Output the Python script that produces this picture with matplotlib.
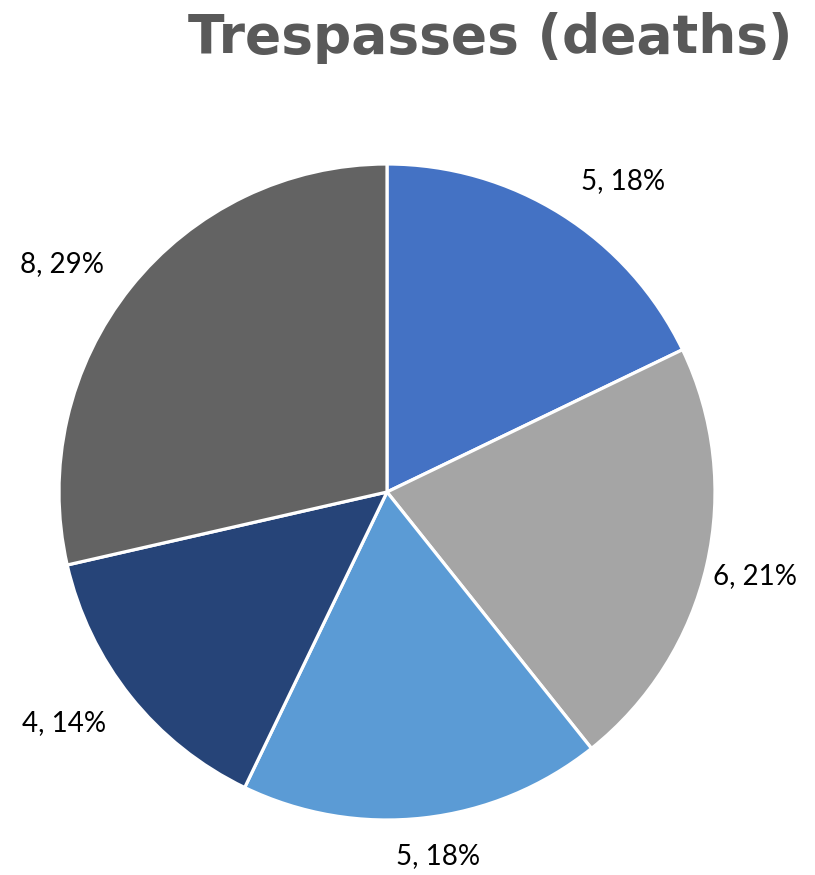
import math
import matplotlib
matplotlib.use("Agg")
import matplotlib.pyplot as plt

title = "Trespasses (deaths)"
values = [5, 6, 5, 4, 8]
colors = ["#4472C4", "#A5A5A5", "#5B9BD5", "#264478", "#636363"]

total = sum(values)
labels = [f"{v}, {round(v / total * 100)}%" for v in values]

# label placement style (distance in radii, angle nudge in degrees)
label_dist = [1.19, 1.15, 1.12, 1.21, 1.21]
label_nudge = [-5.0, 0.0, 1.5, -3.0, 3.5]

fig = plt.figure(figsize=(8.15, 8.75), dpi=100)
ax = fig.add_axes([0, 0, 1, 1])

cx, cy, r = 387, 383, 328
wedges, texts = ax.pie(values, colors=colors, startangle=90, counterclock=False,
                       center=(cx, cy), radius=r, labels=labels, labeldistance=1.17,
                       wedgeprops=dict(edgecolor="white", linewidth=2.3),
                       textprops=dict(fontsize=20, family=["Lato", "DejaVu Sans"], color="black"),
                       frame=True)
for w, t, d, n in zip(wedges, texts, label_dist, label_nudge):
    ang = math.radians((w.theta1 + w.theta2) / 2 + n)
    t.set_position((cx + d * r * math.cos(ang), cy + d * r * math.sin(ang)))
    t.set_ha("center")
    t.set_va("center")
ax.set_xlim(0, 815)
ax.set_ylim(0, 875)
ax.set_aspect("equal")
ax.axis("off")

fig.text(0.601, 0.956, title, ha="center", va="center", fontsize=38.5, fontweight="bold",
         color="#595959", family="DejaVu Sans")

fig.savefig("out.png", dpi=100)
